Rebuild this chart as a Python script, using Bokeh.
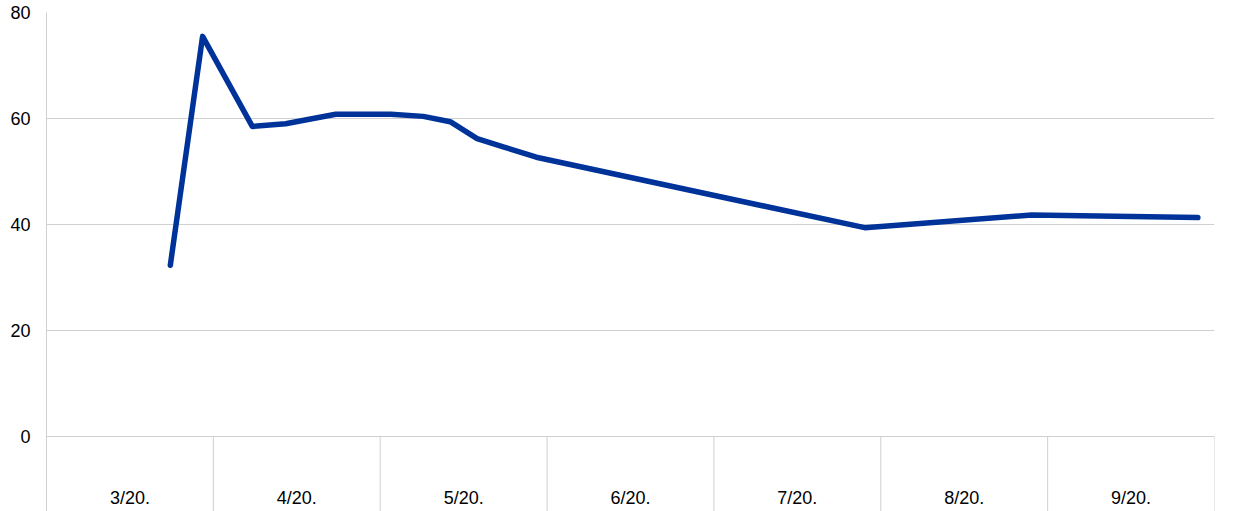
import datetime as dt
import calendar
from bokeh.plotting import figure
from bokeh.models import Range1d, FixedTicker, ColumnDataSource
from bokeh.core.properties import value
from bokeh.embed import file_html
from bokeh.resources import INLINE

# ---- data ----
months = ["3/20.", "4/20.", "5/20.", "6/20.", "7/20.", "8/20.", "9/20."]
month_nums = [3, 4, 5, 6, 7, 8, 9]
dates = ["2020-03-24", "2020-03-30", "2020-04-08", "2020-04-14", "2020-04-18",
         "2020-04-23", "2020-04-28", "2020-05-03", "2020-05-09", "2020-05-14",
         "2020-05-19", "2020-05-24", "2020-05-30", "2020-07-29", "2020-08-29",
         "2020-09-28"]
values = [32.3, 75.5, 58.5, 59.0, 59.8, 60.8, 60.8, 60.8, 60.4, 59.4,
          56.2, 54.6, 52.7, 39.4, 41.8, 41.3]
y_ticks = [0, 20, 40, 60, 80]

FONT = "Liberation Sans"
GRID = "#d0d0d0"
LINE = "#003399"


def month_pos(s):
    d = dt.date.fromisoformat(s)
    idx = month_nums.index(d.month)
    ndays = calendar.monthrange(d.year, d.month)[1]
    return idx + (d.day - 1) / ndays


xs = [month_pos(s) for s in dates]
n = len(months)

W, H = 1240, 511
top, zero_px, left, right = 12, 436, 46, 1214
scale = (zero_px - top) / 80.0
y_bottom = -(H - zero_px) / scale

p = figure(width=W, height=H, output_backend="svg", toolbar_location=None,
           x_range=Range1d(0, n), y_range=Range1d(y_bottom, 80),
           min_border_left=left, min_border_right=W - right, min_border_top=top,
           min_border_bottom=0)
p.outline_line_color = None
p.background_fill_color = "white"
p.border_fill_color = "white"

p.xaxis.visible = False
p.xgrid.visible = False

p.yaxis.ticker = FixedTicker(ticks=y_ticks)
p.yaxis.axis_line_color = GRID
p.yaxis.axis_line_width = 1
p.yaxis.major_tick_line_color = None
p.yaxis.minor_tick_line_color = None
p.yaxis.major_tick_out = 0
p.yaxis.major_tick_in = 0
p.yaxis.major_label_standoff = 16
p.yaxis.major_label_text_font = FONT
p.yaxis.major_label_text_font_size = "18px"
p.yaxis.major_label_text_color = "#000000"

p.ygrid.ticker = FixedTicker(ticks=y_ticks)
p.ygrid.grid_line_color = GRID
p.ygrid.grid_line_width = 1

# month separators below zero
sep_x = list(range(1, n + 1))
p.segment(x0=sep_x, y0=[0] * len(sep_x), x1=sep_x, y1=[y_bottom] * len(sep_x),
          line_color=GRID, line_width=1)

# month labels
lab = ColumnDataSource(dict(x=[i + 0.5 for i in range(n)],
                            y=[-(497 - zero_px) / scale] * n, t=months))
p.text(x="x", y="y", text="t", source=lab, text_align="center",
       text_baseline="middle", text_font=value(FONT), text_font_size="18px",
       text_color="#000000")

p.line(xs, values, line_color=LINE, line_width=5.5, line_join="round",
       line_cap="round")

open("out.html", "w").write(file_html(p, INLINE))
